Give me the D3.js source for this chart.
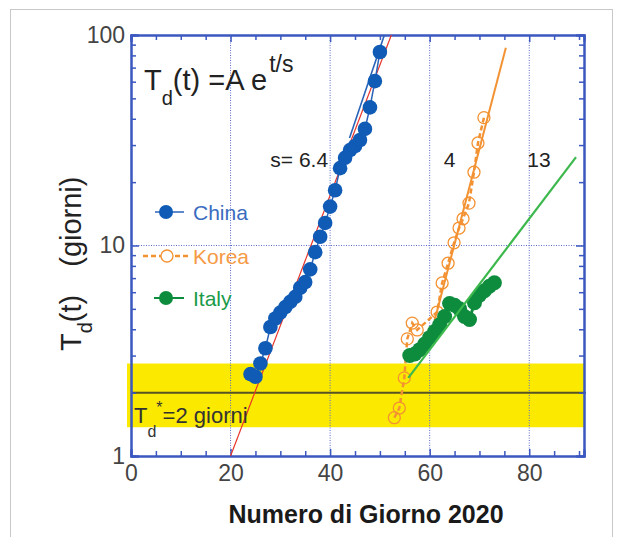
<!DOCTYPE html>
<html><head><meta charset="utf-8">
<script src="https://cdn.jsdelivr.net/npm/d3@7/dist/d3.min.js"></script>
<style>
body{margin:0;background:#fff;}
svg text{font-family:"Liberation Sans",Arial,sans-serif;}
</style></head>
<body><svg id="c" width="622" height="537"></svg>
<script>
// ---- data ----
const xTicks = [0, 20, 40, 60, 80];
const yTicks = [1, 10, 100];
const chinaDays   = [24,25,26,27,28,29,30,31,32,33,34,35,36,37,38,39,40,41,42,43,44,45,46,47,48,49,50];
const chinaValues = [2.45,2.38,2.75,3.25,4.1,4.5,4.8,5.1,5.4,5.7,6.3,6.7,7.7,9.3,11.0,12.8,15.3,18.3,23.3,26.1,28.4,29.7,31.7,35.8,45.3,60.4,83];
const koreaDays   = [52.9,53.9,54.9,55.5,56.5,57.5,61.5,62.5,63.7,64.9,65.9,66.7,67.9,68.9,69.7,70.9];
const koreaValues = [1.52,1.69,2.35,3.6,4.28,3.97,4.83,6.64,8.24,10.3,12.1,13.4,15.9,22.3,30.7,40.5];
const italyDays   = [56,57,58,59,60,61,62,63,64,65,66,67,68,69,70,71,72,73];
const italyValues = [3.0,3.05,3.2,3.4,3.65,3.9,4.2,4.6,5.3,5.2,5.0,4.6,4.45,5.35,5.8,6.1,6.4,6.65];
// fitted exponential lines (straight on log axis), endpoints
const chinaFitRedDays = [20, 52.3],  chinaFitRedValues = [1, 100];
const chinaFitBlueDays = [43.9, 50.9], chinaFitBlueValues = [32.4, 100];
const koreaFitDays = [61, 75.3], koreaFitValues = [4.42, 87];
const italyFitDays = [55.7, 89.4], italyFitValues = [2.35, 26.3];
const bandRange = [1.37, 2.75];
const refValue = 2;
const slopeLabels = [{t:"s= 6.4", x:40, anchor:"end"}, {t:"4", x:64, anchor:"middle"}, {t:"13", x:80, anchor:"start"}];
const legendItems = ["China","Korea","Italy"];

// ---- layout ----
const svg = d3.select("#c");
const L=131, R=584, T=35, B=456;
const x = d3.scaleLinear().domain([0,91]).range([L,R]);
const y = d3.scaleLog().domain([1,100]).range([B,T]);
const BLUE_AX = "#3b57c0";

// outer frame
svg.append("rect").attr("x",10.5).attr("y",9.5).attr("width",602).attr("height",540)
  .attr("fill","none").attr("stroke","#c8c8c8").attr("stroke-width",1);

// clip
svg.append("clipPath").attr("id","pc").append("rect").attr("x",L).attr("y",T).attr("width",R-L).attr("height",B-T);

// yellow band
svg.append("rect").attr("x",127).attr("width",R-127)
  .attr("y",y(bandRange[1])).attr("height",y(bandRange[0])-y(bandRange[1]))
  .attr("fill","#fbe900");

// grid
const grid = svg.append("g").attr("stroke","#5a6acc").attr("stroke-width",1).attr("stroke-dasharray","1,1.5");
xTicks.filter(d=>d>0).forEach(d=>grid.append("line").attr("x1",x(d)).attr("x2",x(d)).attr("y1",T).attr("y2",B));
grid.append("line").attr("x1",L).attr("x2",R).attr("y1",y(10)).attr("y2",y(10));

// reference line T=2
svg.append("line").attr("x1",L).attr("x2",R+2).attr("y1",y(refValue)).attr("y2",y(refValue))
  .attr("stroke","#3a3a2a").attr("stroke-opacity",0.85).attr("stroke-width",2);

// axes
function styleAxis(g, labels){
  g.select(".domain").attr("stroke",BLUE_AX).attr("stroke-width",2);
  g.selectAll(".tick line").attr("stroke",BLUE_AX).attr("stroke-width",1.5);
  g.selectAll(".tick text").attr("fill","#444").attr("font-size",23);
  if(!labels) g.selectAll(".tick text").remove();
}
const minorX = d3.range(5,91,5).filter(d=>d%20!==0);
const minorY = [2,3,4,5,6,7,8,9,20,30,40,50,60,70,80,90];
svg.append("g").attr("transform",`translate(0,${B})`)
  .call(d3.axisBottom(x).tickValues(xTicks).tickSize(-7).tickPadding(8).tickFormat(d3.format("d")))
  .call(g=>styleAxis(g,true)).call(g=>g.selectAll(".tick text").attr("dy","0.72em"));
svg.append("g").attr("transform",`translate(0,${B})`)
  .call(d3.axisBottom(x).tickValues(minorX).tickSize(-5)).call(g=>styleAxis(g,false));
svg.append("g").attr("transform",`translate(0,${T})`)
  .call(d3.axisTop(x).tickValues(xTicks).tickSize(-7)).call(g=>styleAxis(g,false));
svg.append("g").attr("transform",`translate(0,${T})`)
  .call(d3.axisTop(x).tickValues(minorX).tickSize(-5)).call(g=>styleAxis(g,false));
svg.append("g").attr("transform",`translate(${L},0)`)
  .call(d3.axisLeft(y).tickValues(yTicks).tickSize(-8).tickPadding(6).tickFormat(d3.format("d")))
  .call(g=>styleAxis(g,true));
svg.append("g").attr("transform",`translate(${L},0)`)
  .call(d3.axisLeft(y).tickValues(minorY).tickSize(-5)).call(g=>styleAxis(g,false));
svg.append("g").attr("transform",`translate(${R},0)`)
  .call(d3.axisRight(y).tickValues(yTicks).tickSize(-8)).call(g=>styleAxis(g,false));
svg.append("g").attr("transform",`translate(${R},0)`)
  .call(d3.axisRight(y).tickValues(minorY).tickSize(-5)).call(g=>styleAxis(g,false));

// lines
const plot = svg.append("g").attr("clip-path","url(#pc)");
const line = d3.line().x(d=>x(d[0])).y(d=>y(d[1]));
const zip = (a,b)=>a.map((d,i)=>[d,b[i]]);

// china
plot.append("path").attr("d",line(zip(chinaFitRedDays,chinaFitRedValues))).attr("stroke","#e8342a").attr("stroke-width",1.2).attr("fill","none");
plot.append("path").attr("d",line(zip(chinaDays,chinaValues))).attr("stroke","#2a62b8").attr("stroke-width",1.5).attr("fill","none");
plot.append("path").attr("d",line(zip(chinaFitBlueDays,chinaFitBlueValues))).attr("stroke","#2a62b8").attr("stroke-width",1.6).attr("fill","none");
plot.selectAll(".cn").data(zip(chinaDays,chinaValues)).join("circle")
  .attr("cx",d=>x(d[0])).attr("cy",d=>y(d[1])).attr("r",7.3).attr("fill","#0f5bb5");

// korea
plot.append("path").attr("d",line(zip(koreaFitDays,koreaFitValues))).attr("stroke","#f39232").attr("stroke-width",2).attr("fill","none");
plot.append("path").attr("d",line(zip(koreaDays,koreaValues))).attr("stroke","#f39232").attr("stroke-width",2.5).attr("stroke-dasharray","5,3").attr("fill","none");
plot.selectAll(".kr").data(zip(koreaDays,koreaValues)).join("circle")
  .attr("cx",d=>x(d[0])).attr("cy",d=>y(d[1])).attr("r",6).attr("fill","none").attr("stroke","#f39232").attr("stroke-width",1.3);

// italy
plot.append("path").attr("d",line(zip(italyDays,italyValues))).attr("stroke","#0d8c3e").attr("stroke-width",3).attr("fill","none");
plot.selectAll(".it").data(zip(italyDays,italyValues)).join("circle")
  .attr("cx",d=>x(d[0])).attr("cy",d=>y(d[1])).attr("r",7.5).attr("fill","#0d8c3e");
plot.append("path").attr("d",line(zip(italyFitDays,italyFitValues))).attr("stroke","#3cb84c").attr("stroke-width",2.2).attr("fill","none");

// formula
const f = svg.append("text").attr("x",144).attr("y",90).attr("font-size",29).attr("fill","#222");
f.append("tspan").text("T");
f.append("tspan").attr("font-size",20).attr("dy",15).text("d");
f.append("tspan").attr("dy",-15).text("(t) =A e");
f.append("tspan").attr("font-size",23).attr("dx",2).attr("dy",-18).text("t/s");

// slope labels
slopeLabels.forEach(s=>svg.append("text").attr("x",x(s.x)+(s.anchor==="end"?-2:(s.anchor==="start"?-2:0))).attr("y",167)
  .attr("text-anchor",s.anchor).attr("font-size",21).attr("fill","#222").text(s.t));

// legend
const lg = svg.append("g");
const lgY = [212,256,298];
lg.append("line").attr("x1",155).attr("x2",184).attr("y1",lgY[0]).attr("y2",lgY[0]).attr("stroke","#2a62b8").attr("stroke-width",1.5);
lg.append("circle").attr("cx",166).attr("cy",lgY[0]).attr("r",7).attr("fill","#0f5bb5");
lg.append("line").attr("x1",143).attr("x2",191).attr("y1",lgY[1]).attr("y2",lgY[1]).attr("stroke","#f39232").attr("stroke-width",2.5).attr("stroke-dasharray","5,3");
lg.append("circle").attr("cx",167).attr("cy",lgY[1]).attr("r",6).attr("fill","#fff").attr("stroke","#f39232").attr("stroke-width",1.3);
lg.append("line").attr("x1",154).attr("x2",184).attr("y1",lgY[2]).attr("y2",lgY[2]).attr("stroke","#0d8c3e").attr("stroke-width",2);
lg.append("circle").attr("cx",166).attr("cy",lgY[2]).attr("r",7).attr("fill","#0d8c3e");
const lgColors = ["#3a6cc0","#f59a45","#1a9a48"];
legendItems.forEach((t,i)=>lg.append("text").attr("x",193).attr("y",lgY[i]+8).attr("font-size",21).attr("fill",lgColors[i]).text(t));

// T_d* = 2 giorni
const td = svg.append("text").attr("x",134).attr("y",423).attr("font-size",22).attr("fill","#333");
td.append("tspan").text("T");
td.append("tspan").attr("font-size",16).attr("dy",14).text("d");
td.append("tspan").attr("font-size",16).attr("dy",-24).text("*");
td.append("tspan").attr("dy",10).text("=2 giorni");

// y label
const yl = svg.append("text").attr("transform","translate(81,351) rotate(-90)").attr("font-size",29).attr("fill","#222");
yl.append("tspan").text("T");
yl.append("tspan").attr("font-size",20).attr("dy",11).text("d");
yl.append("tspan").attr("dy",-11).text("(t)");
yl.append("tspan").attr("dx",28).text("(giorni)");

// x label
svg.append("text").attr("x",366).attr("y",523).attr("text-anchor","middle")
  .attr("font-size",25).attr("font-weight","bold").attr("fill","#1a1a1a").text("Numero di Giorno 2020");
</script></body></html>
